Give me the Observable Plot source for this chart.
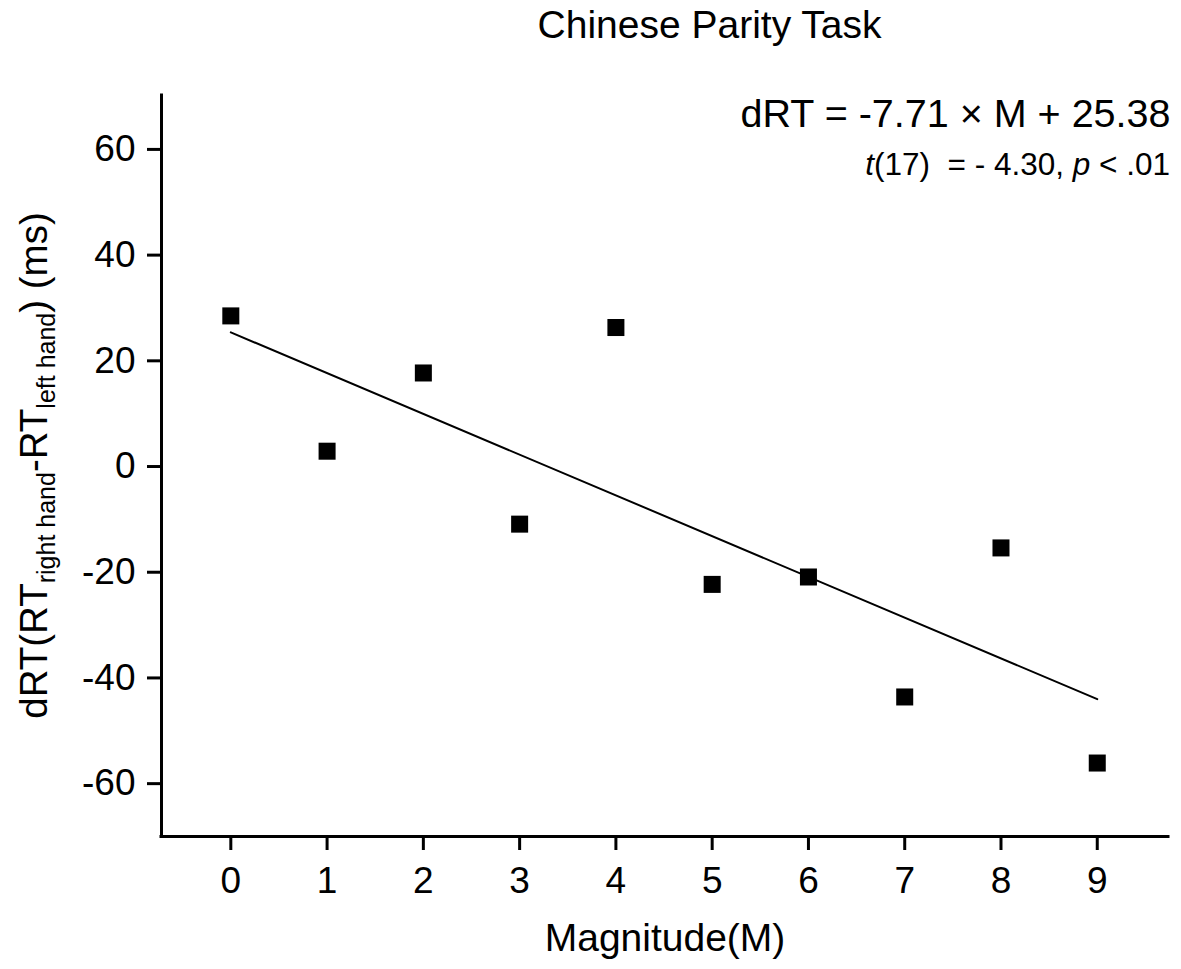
<!DOCTYPE html>
<html>
<head>
<meta charset="utf-8">
<script src="https://cdn.jsdelivr.net/npm/d3@7"></script>
<script src="https://cdn.jsdelivr.net/npm/@observablehq/plot@0.6"></script>
<style>
  html, body { margin: 0; padding: 0; background: #fff; }
  #title {
    width: 1181px; height: 60px; box-sizing: border-box;
    padding-left: 238px; padding-top: 2px;
    font-family: "Liberation Sans", Arial, sans-serif; font-size: 39px; line-height: 45px;
    text-align: center; color: #000;
  }
  svg { display: block; }
</style>
</head>
<body>
<div id="title">Chinese Parity Task</div>
<div id="chart"></div>
<script>
// ---- data ----
const magnitude = [0, 1, 2, 3, 4, 5, 6, 7, 8, 9];
const dRT = [28.5, 2.9, 17.7, -10.9, 26.3, -22.3, -20.9, -43.6, -15.4, -56.1];
const xTicks = [0, 1, 2, 3, 4, 5, 6, 7, 8, 9];
const yTicks = [-60, -40, -20, 0, 20, 40, 60];
const fitSlope = -7.71;
const fitIntercept = 25.38;
const fitRange = [0, 9];
const equationLabel = "dRT = -7.71 × M + 25.38";
const xLabel = "Magnitude(M)";

const points = magnitude.map((m, i) => ({m, v: dRT[i]}));
const fitLine = fitRange.map(m => ({m, v: fitSlope * m + fitIntercept}));

const W = 1181, H = 909, mT = 35, mB = 133, mL = 161, mR = 13;
const xDomain = [-0.72, 9.74];
const yDomain = [-70, 70.2];
const font = "Liberation Sans, Arial, sans-serif";

const chart = Plot.plot({
  width: W, height: H,
  marginTop: mT, marginBottom: mB, marginLeft: mL, marginRight: mR,
  x: {domain: xDomain},
  y: {domain: yDomain},
  style: {fontFamily: font, color: "black", background: "white", overflow: "visible"},
  marks: [
    Plot.axisX(xTicks, {tickSize: 14, tickPadding: 16, strokeWidth: 3, fontSize: 37, label: null, tickFormat: d => String(d)}),
    Plot.axisY(yTicks, {tickSize: 14, tickPadding: 12, strokeWidth: 3, fontSize: 37, label: null, tickFormat: d => String(d)}),
    Plot.ruleY([yDomain[0]], {stroke: "black", strokeWidth: 3, strokeLinecap: "square"}),
    Plot.ruleX([xDomain[0]], {stroke: "black", strokeWidth: 3, strokeLinecap: "square"}),
    Plot.line(fitLine, {x: "m", y: "v", stroke: "black", strokeWidth: 2}),
    Plot.dot(points, {x: "m", y: "v", symbol: "square", r: 9.6, fill: "black", stroke: null}),
    Plot.text([equationLabel], {frameAnchor: "top-right", textAnchor: "end", lineAnchor: "top", dx: 2, dy: 3, fontSize: 39.5, fill: "black"}),
    Plot.text([xLabel], {frameAnchor: "bottom", lineAnchor: "top", dy: 87, fontSize: 39, fill: "black"})
  ]
});

document.getElementById("chart").appendChild(chart);

const svg = d3.select(chart);

// y-axis label with subscripts
const yMid = (mT + (H - mB)) / 2;
const yl = svg.append("text")
  .attr("transform", `translate(47, ${yMid}) rotate(-90)`)
  .attr("text-anchor", "middle")
  .attr("fill", "black")
  .style("font-family", font)
  .style("font-size", "38.5px")
  .style("white-space", "pre");
yl.append("tspan").text("dRT(RT");
yl.append("tspan").attr("dy", 8).style("font-size", "25px").text("right hand");
yl.append("tspan").attr("dy", -8).text("-RT");
yl.append("tspan").attr("dy", 8).style("font-size", "25px").text("left hand");
yl.append("tspan").attr("dy", -8).text(") (ms)");

// statistics line
const st = svg.append("text")
  .attr("x", W - mR + 2)
  .attr("y", 115)
  .attr("text-anchor", "end")
  .attr("fill", "black")
  .style("font-family", font)
  .style("font-size", "31.5px")
  .style("white-space", "pre");
st.append("tspan").style("font-style", "italic").text("t");
st.append("tspan").text("(17)  = - 4.30, ");
st.append("tspan").style("font-style", "italic").text("p");
st.append("tspan").text(" < .01");
</script>
</body>
</html>
